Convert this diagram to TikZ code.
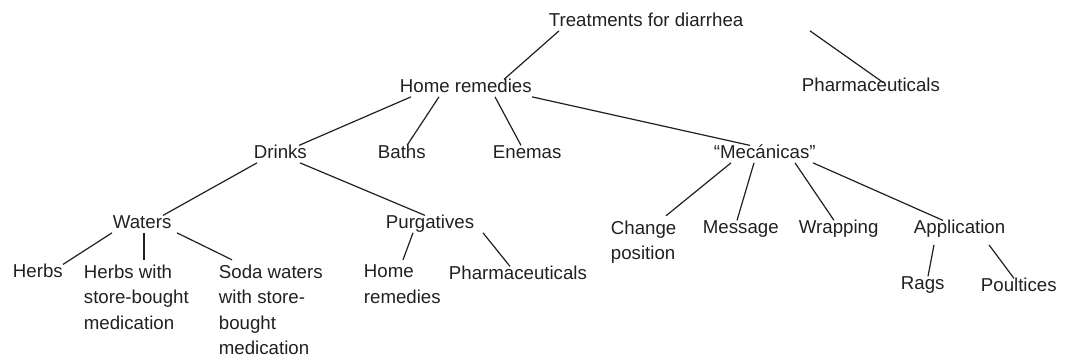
\documentclass[tikz,border=0pt]{standalone}
\usepackage{fontspec}
\setmainfont{Liberation Sans}
\usetikzlibrary{calc}
\definecolor{inkBlack}{RGB}{35,31,32}

\begin{document}
\begin{tikzpicture}[
      x=0.75pt, y=-0.75pt,
      every node/.style={anchor=base west, inner sep=0.5pt, text=inkBlack, align=left,
        font=\fontsize{14}{19}\selectfont, text height=0.95em, text depth=0.22em},
      multiline/.style={anchor=north west, text height={}, text depth={}, inner ysep=3.6pt},
      branch/.style={draw=inkBlack, line width=0.9pt}
    ]
      \useasboundingbox (0,0) rectangle (1071,359);
      \node (root) at (548,27) {Treatments for diarrhea};
      \node (home) at (399,93) {Home remedies};
      \node (pharma) at (801,92) {Pharmaceuticals};
      \node (drinks) at (253,159) {Drinks};
      \node (baths) at (377,159) {Baths};
      \node (enemas) at (492,159) {Enemas};
      \node (mecanicas) at (713,159) {“Mecánicas”};
      \node (waters) at (112,229) {Waters};
      \node (purgatives) at (385,229) {Purgatives};
      \node (herbs) at (12,278) {Herbs};
      \node[multiline] (herbsstore) at (83,259.8) {Herbs with\\store-bought\\medication};
      \node[multiline] (soda) at (218,259.8) {Soda waters\\with store-\\bought\\medication};
      \node[multiline] (homepurg) at (363,259.8) {Home\\remedies};
      \node (pharmapurg) at (448,280) {Pharmaceuticals};
      \node[multiline] (change) at (610,215.8) {Change\\position};
      \node (message) at (702,234) {Message};
      \node (wrapping) at (798,234) {Wrapping};
      \node (application) at (913,234) {Application};
      \node (rags) at (900,290) {Rags};
      \node (poultices) at (980,292) {Poultices};

      \draw[branch] (root.south -| 559,0) -- (home.north -| 504,0);
      \draw[branch] (root.south -| 810,0) -- ($(pharma.north -| 883,0)+(0,4)$);
      \draw[branch] (home.south -| 411,0) -- (drinks.north -| 299,0);
      \draw[branch] (home.south -| 439,0) -- (baths.north -| 407,0);
      \draw[branch] (home.south -| 495,0) -- (enemas.north -| 521,0);
      \draw[branch] (home.south -| 532,0) -- (mecanicas.north -| 750,0);
      \draw[branch] (drinks.south -| 257,0) -- (waters.north -| 163,0);
      \draw[branch] (drinks.south -| 300,0) -- (purgatives.north -| 425,0);
      \draw[branch] (waters.south -| 112,0) -- (herbs.north -| 63,0);
      \draw[branch] (waters.south -| 144,0) -- (herbsstore.north -| 144,0);
      \draw[branch] (waters.south -| 177,0) -- (soda.north -| 232,0);
      \draw[branch] (purgatives.south -| 413,0) -- (homepurg.north -| 403,0);
      \draw[branch] (purgatives.south -| 483,0) -- (pharmapurg.north -| 510,0);
      \draw[branch] (mecanicas.south -| 731,0) -- (change.north -| 666,0);
      \draw[branch] (mecanicas.south -| 754,0) -- (message.north -| 737,0);
      \draw[branch] (mecanicas.south -| 795,0) -- (wrapping.north -| 834,0);
      \draw[branch] (mecanicas.south -| 813,0) -- (application.north -| 943,0);
      \draw[branch] ($(application.south -| 934,0)+(0,7)$) -- (rags.north -| 928,0);
      \draw[branch] ($(application.south -| 989,0)+(0,7)$) -- (poultices.north -| 1014,0);
    \end{tikzpicture}
\end{document}
